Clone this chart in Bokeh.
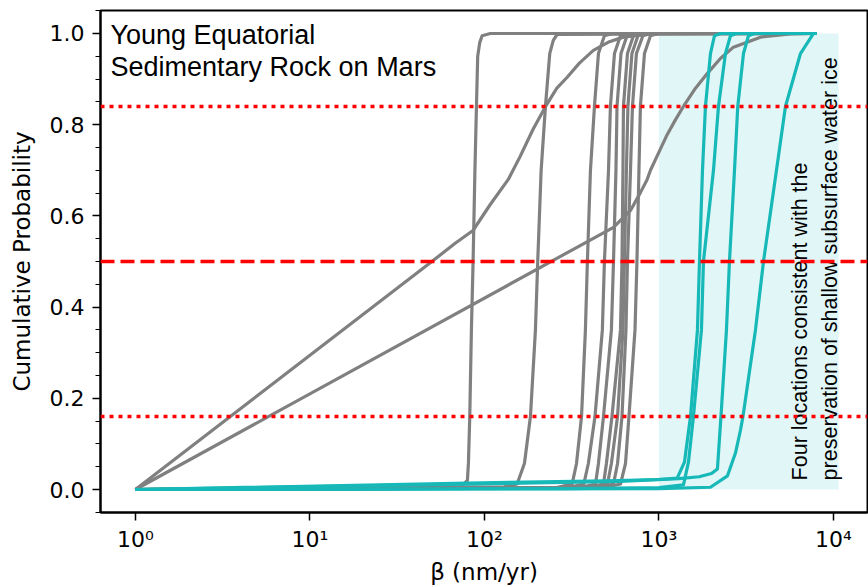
import math
from bokeh.plotting import figure
from bokeh.models import Range1d, Span, Label, FixedTicker, SingleIntervalTicker, PrintfTickFormatter
from bokeh.embed import file_html
from bokeh.resources import INLINE

# ---------------- data ----------------
# shared y levels for the steep grey cluster curves
cluster_y = [0, 0.004, 0.012, 0.057, 0.16, 0.35, 0.5, 0.7, 0.84, 0.956, 0.995, 1.0, 1.0]

# grey curves (beta in nm/yr, cumulative probability)
s1_x = [1, 50, 68, 86, 108, 137, 160, 190, 224, 260, 298, 350, 421, 520, 626, 894, 8000]
s1_y = [0, 0.50, 0.54, 0.568, 0.625, 0.68, 0.73, 0.79, 0.84, 0.88, 0.904, 0.935, 0.963, 0.982, 0.992, 0.999, 1.0]

s2_x = [1, 549, 687, 783, 856, 894, 1000, 1104, 1240, 1381, 1620, 1890, 2250, 2672, 3817, 5670, 8000]
s2_y = [0, 0.575, 0.612, 0.651, 0.68, 0.70, 0.74, 0.775, 0.81, 0.84, 0.88, 0.912, 0.945, 0.97, 0.992, 0.999, 1.0]

g1_x = [1, 72, 79.9, 81.0, 82.4, 84.2, 86.1, 88.2, 90.0, 91.5, 94, 97, 108, 8000]
g1_y = [0, 0.004, 0.02, 0.06, 0.16, 0.35, 0.5, 0.7, 0.84, 0.95, 0.98, 0.995, 1.0, 1.0]

g2_x = [1, 130, 153.9, 169.5, 183.5, 196.0, 202.0, 211.3, 223.7, 236.7, 248, 261, 8000]
g2_y = [0, 0.006, 0.012, 0.057, 0.16, 0.35, 0.5, 0.70, 0.84, 0.956, 0.985, 0.998, 1.0]

c1_x = [1, 255, 318, 337, 360, 379, 389, 405, 427, 450, 487, 541, 8000]
c2_x = [1, 297, 371, 394, 430, 474, 487, 514, 527, 556, 602, 669, 8000]
c3_x = [1, 346, 433, 450, 481, 534, 549, 567, 575, 606, 656, 729, 8000]
c4_x = [1, 385, 481, 500, 538, 602, 614, 622, 626, 660, 714, 794, 8000]
c5_x = [1, 406, 507, 534, 579, 622, 634, 651, 664, 700, 758, 842, 8000]
c6_x = [1, 439, 549, 579, 614, 647, 660, 687, 705, 743, 809, 894, 8000]
c7_x = [1, 482, 602, 643, 673, 729, 748, 768, 783, 826, 894, 994, 8000]

# teal curves (four locations consistent with shallow subsurface ice)
t1_x = [1, 80, 500, 1000, 1272, 1400, 1516, 1662, 1707, 1776, 1847, 1973, 2080, 2251, 8000]
t1_y = [0, 0.014, 0.019, 0.022, 0.025, 0.06, 0.16, 0.35, 0.5, 0.7, 0.84, 0.956, 0.995, 1.0, 1.0]

t2_x = [1, 300, 1000, 1382, 1476, 1576, 1752, 1799, 2053, 2193, 2405, 2569, 2781, 8000]
t2_y = [0, 0.002, 0.004, 0.01, 0.06, 0.16, 0.35, 0.5, 0.7, 0.84, 0.956, 0.995, 1.0, 1.0]

t3_x = [1, 80, 600, 1300, 1700, 2000, 2163, 2266, 2437, 2535, 2709, 2829, 3050, 3257, 3527, 8000]
t3_y = [0, 0.012, 0.018, 0.024, 0.028, 0.035, 0.045, 0.16, 0.35, 0.5, 0.7, 0.84, 0.956, 0.995, 1.0, 1.0]

t4_x = [1, 1000, 1973, 2470, 2744, 2931, 3030, 3573, 3972, 4714, 5307, 6470, 7682, 8000]
t4_y = [0, 0.002, 0.005, 0.03, 0.08, 0.13, 0.16, 0.35, 0.5, 0.7, 0.84, 0.956, 1.0, 1.0]

# reference probability levels
dotted_levels = [0.16, 0.84]
median_level = 0.5

# shaded band (ice-consistent region)
band_left = 1000
band_right = 10700
band_bottom = 0.0
band_top = 1.0

x_tick_values = [1, 10, 100, 1000, 10000]
x_tick_labels = ["10⁰", "10¹", "10²", "10³", "10⁴"]

title_lines = ["Young Equatorial", "Sedimentary Rock on Mars"]
band_lines = ["Four locations consistent with the",
              "preservation of shallow subsurface water ice"]

GREY = "#808080"
TEAL = "#17b8b8"

# ---------------- figure ----------------
p = figure(width=868, height=587, x_axis_type="log",
           x_range=Range1d(10 ** -0.2, 10 ** 4.195),
           y_range=Range1d(-0.0504, 1.0504),
           output_backend="svg", toolbar_location=None,
           min_border_left=100, min_border_right=1,
           min_border_top=10, min_border_bottom=75)
p.grid.visible = False
p.outline_line_color = "black"
p.outline_line_width = 2

p.quad(left=[band_left], right=[band_right], bottom=[band_bottom], top=[band_top],
       fill_color="#e1f6f6", line_color=None)

grey_curves = [(s1_x, s1_y), (s2_x, s2_y), (g1_x, g1_y), (g2_x, g2_y)]
for cx in [c1_x, c2_x, c3_x, c4_x, c5_x, c6_x, c7_x]:
    grey_curves.append((cx, cluster_y))
for xs, ys in grey_curves:
    p.line(xs, ys, line_color=GREY, line_width=3.2, line_join="round")

for xs, ys in [(t1_x, t1_y), (t2_x, t2_y), (t3_x, t3_y), (t4_x, t4_y)]:
    p.line(xs, ys, line_color=TEAL, line_width=3.2, line_join="round")

# title text
p.add_layout(Label(x=0.72, y=0.996, text=title_lines[0], text_font="Liberation Sans",
                   text_font_size="27px", text_align="left", text_baseline="alphabetic",
                   text_color="black"))
p.add_layout(Label(x=0.72, y=0.926, text=title_lines[1], text_font="Liberation Sans",
                   text_font_size="27px", text_align="left", text_baseline="alphabetic",
                   text_color="black"))

# vertical band text
for xb, line in zip([6471, 9587], band_lines):
    p.add_layout(Label(x=xb, y=0.02, text=line, angle=math.pi / 2,
                       text_font="Liberation Sans", text_font_size="21.5px",
                       text_align="left", text_baseline="alphabetic", text_color="black"))

# reference lines
for lvl in dotted_levels:
    p.add_layout(Span(location=lvl, dimension="width", line_color="red",
                      line_width=3.5, line_dash="4 5"))
p.add_layout(Span(location=median_level, dimension="width", line_color="red",
                  line_width=3.5, line_dash="14 6"))

# axes
p.xaxis.ticker = FixedTicker(ticks=x_tick_values, minor_ticks=[])
p.xaxis.major_label_overrides = dict(zip(x_tick_values, x_tick_labels))
p.yaxis.ticker = SingleIntervalTicker(interval=0.2, num_minor_ticks=4)
p.yaxis.formatter = PrintfTickFormatter(format="%.1f")

p.xaxis.axis_label = "β (nm/yr)"
p.yaxis.axis_label = "Cumulative Probability"
for ax in [p.xaxis, p.yaxis]:
    ax.axis_label_text_font = "DejaVu Sans"
    ax.axis_label_text_font_size = "23px"
    ax.axis_label_text_font_style = "normal"
    ax.axis_label_text_color = "black"
    ax.major_label_text_font = "DejaVu Sans"
    ax.major_label_text_font_size = "22px"
    ax.major_label_text_color = "black"
    ax.axis_line_color = "black"
    ax.axis_line_width = 2
    ax.major_tick_line_color = "black"
    ax.major_tick_line_width = 1.5
    ax.major_tick_out = 8
    ax.major_tick_in = 0
    ax.minor_tick_line_color = "black"
    ax.minor_tick_line_width = 1.2
    ax.minor_tick_out = 5
    ax.minor_tick_in = 0
p.yaxis.major_label_standoff = 8
p.yaxis.axis_label_standoff = 12
p.xaxis.major_label_standoff = 6
p.xaxis.axis_label_standoff = 4

open("out.html", "w").write(file_html(p, INLINE))
